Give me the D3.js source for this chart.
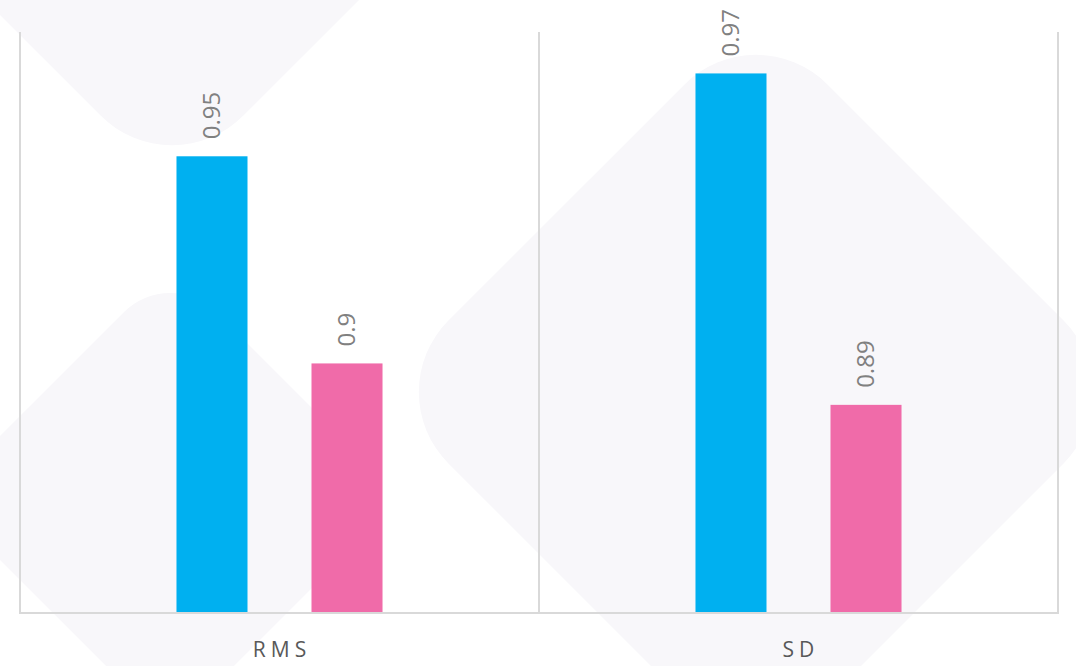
<!DOCTYPE html>
<html>
<head>
<meta charset="utf-8">
<script src="https://cdn.jsdelivr.net/npm/d3@7"></script>
<style>
  html, body { margin: 0; padding: 0; background: #ffffff; }
  svg { display: block; }
</style>
</head>
<body>
<svg id="chart" width="1076" height="666"></svg>
<script>
// Chart data
const categories = ["RMS", "SD"];
const seriesNames = ["Series A", "Series B"];
const seriesA = [0.95, 0.97];
const seriesB = [0.9, 0.89];
const valueDomain = [0.84, 0.98];

const seriesColors = ["#00B0F0", "#F06BA9"];

const W = 1076, H = 666;
const plot = { left: 20, right: 1058, top: 32, bottom: 612 };

const svg = d3.select("#chart");

// Decorative rounded diamonds in the background
const decor = [
  { cx: 172, cy: -192, side: 536, r: 101 },
  { cx: 170, cy: 498, side: 328, r: 65 },
  { cx: 756, cy: 392, side: 536, r: 101 }
];
svg.append("g")
  .selectAll("rect")
  .data(decor)
  .join("rect")
  .attr("x", d => -d.side / 2)
  .attr("y", d => -d.side / 2)
  .attr("width", d => d.side)
  .attr("height", d => d.side)
  .attr("rx", d => d.r)
  .attr("ry", d => d.r)
  .attr("transform", d => `translate(${d.cx},${d.cy}) rotate(45)`)
  .attr("fill", "#f8f7fa");

// Scales
const x0 = d3.scaleBand()
  .domain(categories)
  .range([plot.left, plot.right])
  .paddingInner(0)
  .paddingOuter(0);

const x1 = d3.scaleBand()
  .domain(seriesNames)
  .range([0, x0.bandwidth()])
  .paddingInner(0.474)
  .paddingOuter(1.159);

const y = d3.scaleLinear()
  .domain(valueDomain)
  .range([plot.bottom, plot.top]);

// Vertical separators between categories
const sepX = categories.map(c => x0(c)).concat([plot.right]);
svg.append("g")
  .selectAll("line")
  .data(sepX)
  .join("line")
  .attr("x1", d => d)
  .attr("x2", d => d)
  .attr("y1", plot.top)
  .attr("y2", plot.bottom + 1)
  .attr("stroke", "#d9d9d9")
  .attr("stroke-width", 2);

// Bars
const rows = categories.map((c, i) => ({
  category: c,
  values: [
    { series: seriesNames[0], value: seriesA[i], color: seriesColors[0] },
    { series: seriesNames[1], value: seriesB[i], color: seriesColors[1] }
  ]
}));

const groups = svg.append("g")
  .selectAll("g")
  .data(rows)
  .join("g")
  .attr("transform", d => `translate(${x0(d.category)},0)`);

groups.selectAll("rect")
  .data(d => d.values)
  .join("rect")
  .attr("x", d => x1(d.series))
  .attr("y", d => y(d.value))
  .attr("width", x1.bandwidth())
  .attr("height", d => y(valueDomain[0]) - y(d.value))
  .attr("fill", d => d.color);

// Value labels, rotated
groups.selectAll("text")
  .data(d => d.values)
  .join("text")
  .attr("transform", d => `translate(${x1(d.series) + x1.bandwidth() / 2},${y(d.value) - 17}) rotate(-90)`)
  .attr("dy", "0.35em")
  .attr("text-anchor", "start")
  .attr("font-family", "'Open Sans', sans-serif")
  .attr("font-size", 24)
  .attr("fill", "#808080")
  .text(d => String(d.value));

// Category axis line
svg.append("line")
  .attr("x1", plot.left - 1)
  .attr("x2", plot.right + 1)
  .attr("y1", plot.bottom + 1)
  .attr("y2", plot.bottom + 1)
  .attr("stroke", "#d9d9d9")
  .attr("stroke-width", 2);

// Category labels
svg.append("g")
  .selectAll("text")
  .data(categories)
  .join("text")
  .attr("x", d => x0(d) + x0.bandwidth() / 2 + 2.5)
  .attr("y", 657)
  .attr("text-anchor", "middle")
  .attr("font-family", "'Open Sans', sans-serif")
  .attr("font-size", 21)
  .attr("letter-spacing", 5)
  .attr("fill", "#595959")
  .text(d => d);
</script>
</body>
</html>
